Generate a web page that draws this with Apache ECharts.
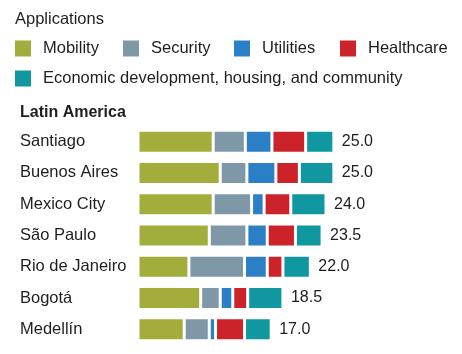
<!DOCTYPE html>
<html>
<head>
<meta charset="utf-8">
<script src="https://cdn.jsdelivr.net/npm/echarts@6/dist/echarts.min.js"></script>
<style>
  html, body { margin: 0; padding: 0; background: #fff; }
  #chart { width: 462px; height: 354px; }
</style>
</head>
<body>
<div id="chart"></div>
<script>
  // 城市
  const cities = ['Santiago', 'Buenos Aires', 'Mexico City', 'São Paulo', 'Rio de Janeiro', 'Bogotá', 'Medellín']
  const mobility = [9.6, 10.5, 9.6, 9.1, 6.5, 8.0, 5.9]
  const security = [4.1, 3.4, 4.9, 4.8, 7.1, 2.5, 3.2]
  const utilities = [3.4, 3.7, 1.6, 2.6, 2.9, 1.6, 0.8]
  const healthcare = [4.3, 3.0, 3.4, 3.6, 2.0, 1.9, 3.7]
  const economic = [3.6, 4.4, 4.5, 3.4, 3.5, 4.5, 3.4]
  const totals = [25.0, 25.0, 24.0, 23.5, 22.0, 18.5, 17.0]

  const names = ['Mobility', 'Security', 'Utilities', 'Healthcare', 'Economic development, housing, and community']
  const colors = ['#a2ad3b', '#7f98a7', '#2a7fc6', '#cc2229', '#10979f']
  const values = [mobility, security, utilities, healthcare, economic]

  const font = 'Arial, "Liberation Sans", sans-serif'
  const textColor = '#1e1e1e'

  // 图例位置
  const legendPos = [[15, 40], [123, 40], [234, 40], [340, 40], [15, 70]]

  const chart = echarts.init(document.getElementById('chart'))
  const option = {
    animation: false,
    title: [
      {
        text: 'Applications',
        left: 15, top: 11, padding: 0,
        textStyle: {fontFamily: font, fontSize: 16.5, fontWeight: 'normal', color: textColor}
      },
      {
        text: 'Latin America',
        left: 20, top: 105, padding: 0,
        textStyle: {fontFamily: font, fontSize: 16, fontWeight: 'bold', color: textColor}
      }
    ],
    legend: names.map((n, i) => ({
      data: [n],
      left: legendPos[i][0],
      top: legendPos[i][1],
      padding: 0,
      icon: 'rect',
      itemWidth: 16,
      itemHeight: 16,
      itemStyle: {borderWidth: 0},
      selectedMode: false,
      textStyle: {fontFamily: font, fontSize: 16.5, color: textColor, padding: [0, 0, 0, 7]}
    })),
    grid: {
      left: 138,
      top: 126,
      height: 219,
      width: 235
    },
    xAxis: {
      type: 'value',
      min: 0,
      max: 30,
      show: false
    },
    yAxis: {
      type: 'category',
      inverse: true,
      data: cities,
      axisLine: {show: false},
      axisTick: {show: false},
      axisLabel: {
        align: 'left',
        margin: 118,
        fontFamily: font,
        fontSize: 16.5,
        color: textColor
      }
    },
    series: names.map((n, i) => ({
      name: n,
      type: 'bar',
      stack: 'total',
      barWidth: 23,
      itemStyle: {color: colors[i], borderColor: '#fff', borderWidth: 1.5},
      label: i === names.length - 1 ? {
        show: true,
        position: 'right',
        distance: 8,
        fontFamily: font,
        fontSize: 16,
        color: textColor,
        formatter: p => totals[p.dataIndex].toFixed(1)
      } : {show: false},
      data: values[i]
    }))
  }
  chart.setOption(option)
  window.addEventListener('resize', function() {
    chart.resize()
  })
</script>
</body>
</html>
